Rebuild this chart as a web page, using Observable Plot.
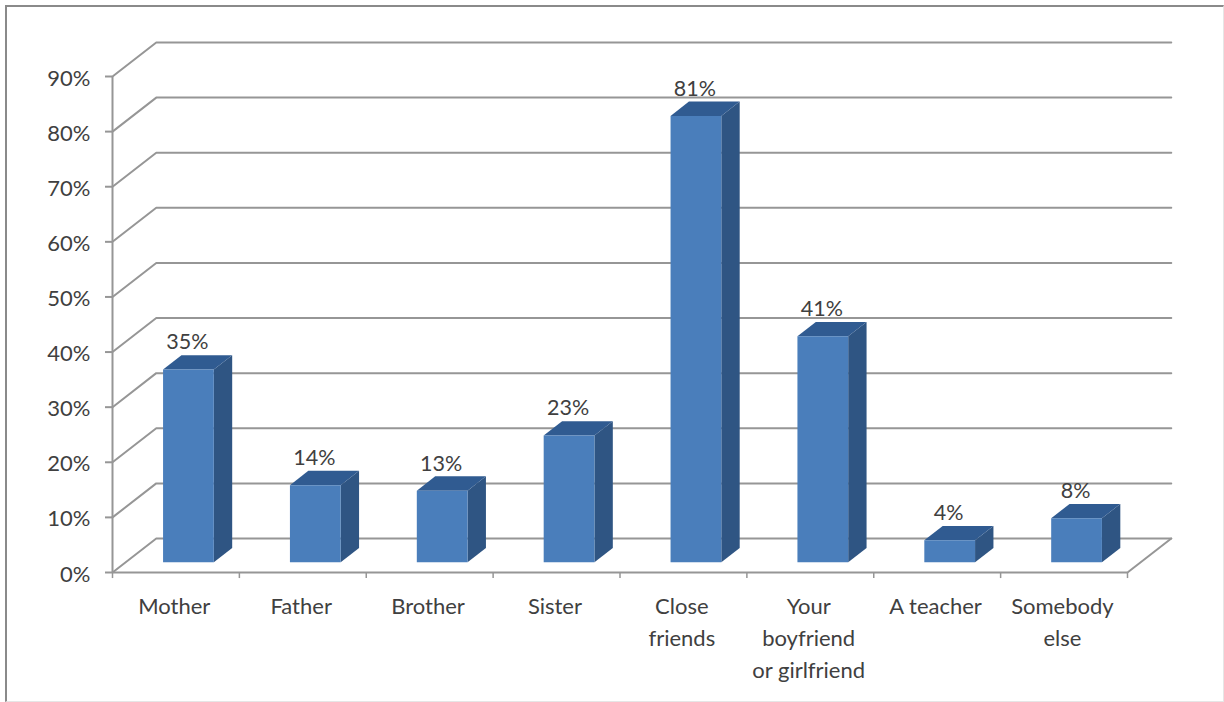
<!DOCTYPE html>
<html>
<head>
<meta charset="utf-8">
<script src="https://cdn.jsdelivr.net/npm/d3@7"></script>
<script src="https://cdn.jsdelivr.net/npm/@observablehq/plot@0.6"></script>
<style>
  html, body { margin: 0; padding: 0; background: #fff; }
  #panel {
    position: absolute; left: 5px; top: 5px; width: 1216px; height: 694px;
    border-style: solid; border-width: 2px 1px 1px 2px;
    border-color: #8a8a8a #e6e6e6 #e6e6e6 #8a8a8a;
  }
  #chart { position: absolute; left: 0; top: 0; }
  #chart svg { display: block; background: transparent; }
</style>
</head>
<body>
<div id="panel"></div>
<div id="chart"></div>
<script>
const categories = ["Mother", "Father", "Brother", "Sister", "Close\nfriends", "Your\nboyfriend\nor girlfriend", "A teacher", "Somebody\nelse"];
const shares = [35, 14, 13, 23, 81, 41, 4, 8];
const yTicks = [0, 10, 20, 30, 40, 50, 60, 70, 80, 90];

// Oblique projection: depth d (0 = front of floor, 1 = back wall) shifts
// a point along both data axes.
const depthX = 0.345;
const depthY = 6.17;
const px = (x, d) => x + d * depthX;
const py = (y, d) => y + d * depthY;

const barHalf = 0.2;
const barFront = 0.3;
const barBack = 0.72;

const rows = categories.map((name, i) => ({name, value: shares[i], center: i + 0.495}));

// One closed outline per bar, listed corner by corner in data space.
const face = (corners) => rows.flatMap((r) =>
  corners(r).map(([x, y, d]) => ({id: r.name, x: px(x, d), y: py(y, d)}))
);
const frontFace = face((r) => [
  [r.center - barHalf, 0, barFront], [r.center + barHalf, 0, barFront],
  [r.center + barHalf, r.value, barFront], [r.center - barHalf, r.value, barFront]
]);
const sideFace = face((r) => [
  [r.center + barHalf, 0, barFront], [r.center + barHalf, 0, barBack],
  [r.center + barHalf, r.value, barBack], [r.center + barHalf, r.value, barFront]
]);
const topFace = face((r) => [
  [r.center - barHalf, r.value, barFront], [r.center + barHalf, r.value, barFront],
  [r.center + barHalf, r.value, barBack], [r.center - barHalf, r.value, barBack]
]);

// Gridlines climb the left wall, then run along the back wall.
const grid = yTicks.flatMap((v) => [
  {id: v, x: px(0, 0), y: py(v, 0)},
  {id: v, x: px(0, 1), y: py(v, 1)},
  {id: v, x: px(categories.length, 1), y: py(v, 1)}
]);
const floorEdge = [
  {x: px(categories.length, 0), y: py(0, 0)},
  {x: px(categories.length, 1), y: py(0, 1)}
];

const ink = "#404040";
const lineGray = "#969696";
const faceMark = (data, fill) => Plot.line(data, {x: "x", y: "y", z: "id", fill, stroke: "none", curve: "linear-closed"});

const chart = Plot.plot({
  width: 1224,
  height: 702,
  marginLeft: 112,
  marginRight: 97,
  marginTop: 76,
  marginBottom: 130,
  style: {fontFamily: "Lato, sans-serif", background: "transparent"},
  x: {domain: [0, categories.length], range: [112, 1127], axis: null},
  y: {domain: [0, 90], range: [572, 76], axis: null},
  marks: [
    Plot.line(grid, {x: "x", y: "y", z: "id", stroke: lineGray, strokeWidth: 2}),
    Plot.line(floorEdge, {x: "x", y: "y", stroke: lineGray, strokeWidth: 2}),
    Plot.ruleX([0], {y1: 0, y2: 90, stroke: lineGray, strokeWidth: 2}),
    Plot.ruleY([0], {x1: 0, x2: categories.length, stroke: lineGray, strokeWidth: 2}),
    // Value axis ticks and percent labels.
    Plot.ruleY(yTicks, {x1: 0, x2: -0.055, stroke: lineGray, strokeWidth: 2}),
    Plot.text(yTicks, {
      x: () => 0, y: (d) => d, text: (d) => `${d}%`, textAnchor: "end",
      dx: -22, dy: 2, fontSize: 22, fill: ink
    }),
    // Short ticks below the category axis at each band boundary.
    Plot.ruleX(d3.range(categories.length + 1), {y1: 0, y2: -1.1, stroke: lineGray, strokeWidth: 1.5}),
    faceMark(sideFace, "#2f5583"),
    faceMark(topFace, "#305b91"),
    faceMark(frontFace, "#4a7ebb"),
    Plot.text(rows, {
      x: "center", y: () => 0, text: "name", dx: -1, dy: 19, lineAnchor: "top", lineHeight: 1.45,
      fontSize: 22, fill: ink
    }),
    Plot.text(rows, {
      x: (r) => px(r.center, barFront), y: (r) => py(r.value, barFront),
      text: (r) => `${r.value}%`, dx: -1, dy: -27, fontSize: 21.5, fill: ink
    })
  ]
});
document.getElementById("chart").append(chart);
</script>
</body>
</html>
